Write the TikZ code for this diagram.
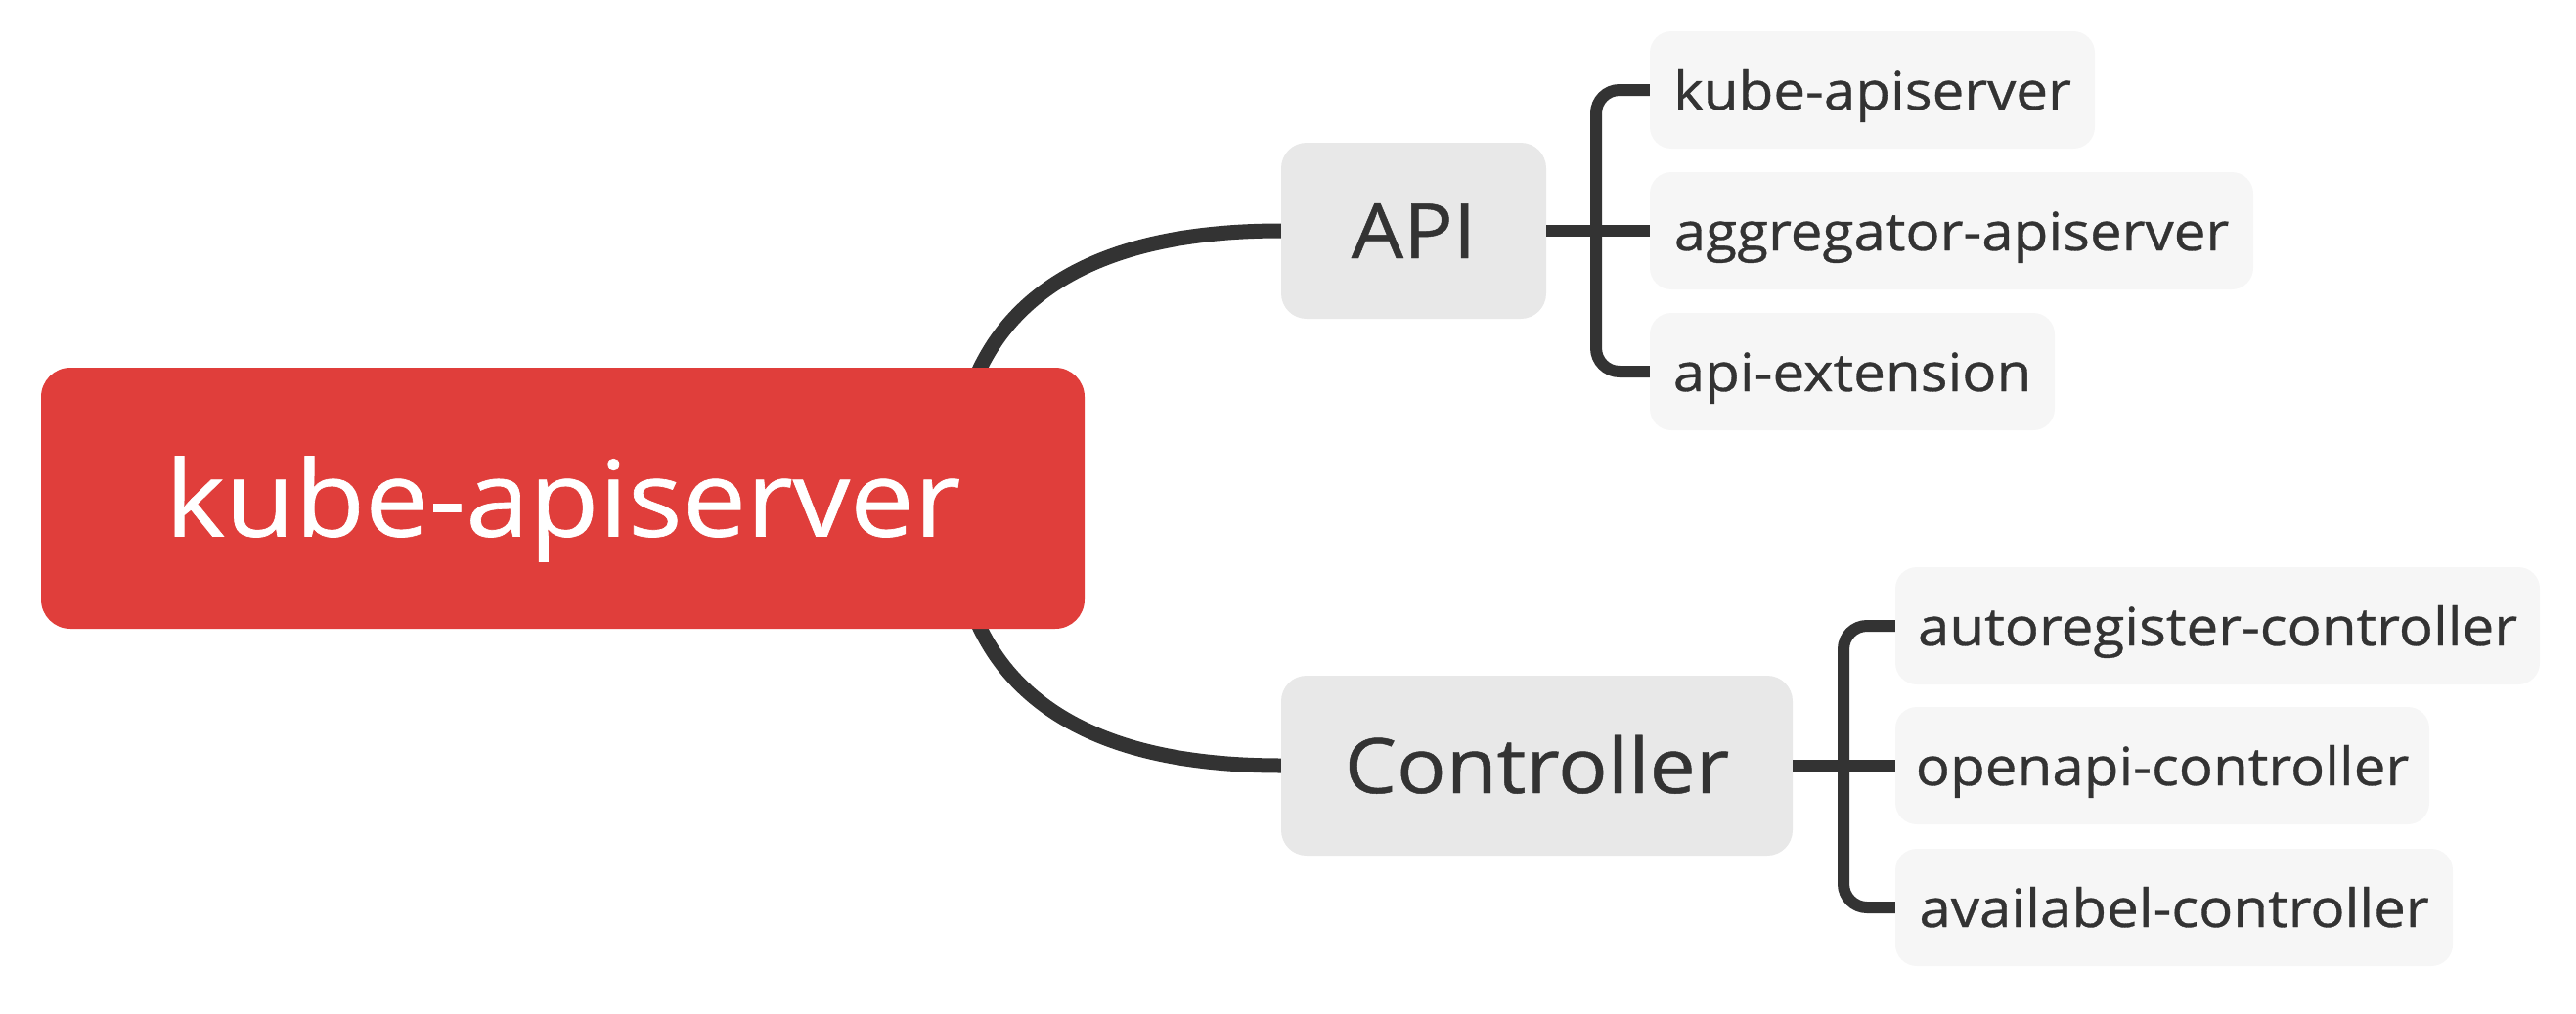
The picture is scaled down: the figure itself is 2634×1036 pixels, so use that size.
\documentclass[tikz,border=0pt]{standalone}
\usepackage{fontspec}
\setmainfont{Open Sans}[FakeStretch=1.08, FakeBold=0.6]
\definecolor{rootred}{HTML}{E03E3B}
\definecolor{midgray}{HTML}{E8E8E8}
\definecolor{leafgray}{HTML}{F6F6F6}
\definecolor{ink}{HTML}{333333}
\tikzset{
  rootbox/.style={fill=rootred, rounded corners=30pt, text=white, inner sep=0pt,
    text height=78pt, text depth=0pt, font=\fontsize{108}{108}\selectfont},
  midbox/.style={fill=midgray, rounded corners=26pt, text=ink, inner sep=0pt,
    text height=56pt, text depth=0pt, font=\fontsize{78}{78}\selectfont},
  leafbox/.style={fill=leafgray, rounded corners=22pt, text=ink, inner sep=0pt,
    text height=40pt, text depth=0pt, font=\fontsize{54}{54}\selectfont},
  trunk/.style={draw=ink, line width=15pt},
  twig/.style={draw=ink, line width=12pt, rounded corners=24pt},
}
\begin{document}
\begin{tikzpicture}[x=1pt,y=-1pt]
\useasboundingbox (0,0) rectangle (2634,1036);
% middle nodes
\node[midbox, minimum width=271pt, minimum height=180pt] (api) at (1445.5,236) {API};
\node[midbox, minimum width=523pt, minimum height=184pt] (ctrl) at (1571.5,783) {Controller};
% leaves
\node[leafbox, minimum width=455pt, minimum height=120pt] (l1) at (1914.5,92) {kube-apiserver};
\node[leafbox, minimum width=617pt, minimum height=120pt] (l2) at (1995.5,236) {aggregator-apiserver};
\node[leafbox, minimum width=414pt, minimum height=120pt] (l3) at (1894,380) {api-extension};
\node[leafbox, minimum width=659pt, minimum height=120pt] (l4) at (2267.5,640) {autoregister-controller};
\node[leafbox, minimum width=546pt, minimum height=120pt] (l5) at (2211,783) {openapi-controller};
\node[leafbox, minimum width=570pt, minimum height=120pt] (l6) at (2223,928) {availabel-controller};
% junctions
\coordinate (ja) at (1632,236);
\coordinate (jc) at (1885,783);
\coordinate (rs) at (975,509.5);
% trunk curves
\draw[trunk] (rs) .. controls (975,328) and (1087,236) .. (api.west);
\draw[trunk] (rs) .. controls (975,691) and (1087,783) .. (ctrl.west);
% brackets
\draw[twig] (api.east) -- (l2.west);
\draw[twig] (l1.west) -| (ja) |- (l3.west);
\draw[twig] (ctrl.east) -- (l5.west);
\draw[twig] (l4.west) -| (jc) |- (l6.west);
% root
\node[rootbox, minimum width=1067pt, minimum height=267pt] (root) at (575.5,509.5) {kube-apiserver};
\end{tikzpicture}
\end{document}
